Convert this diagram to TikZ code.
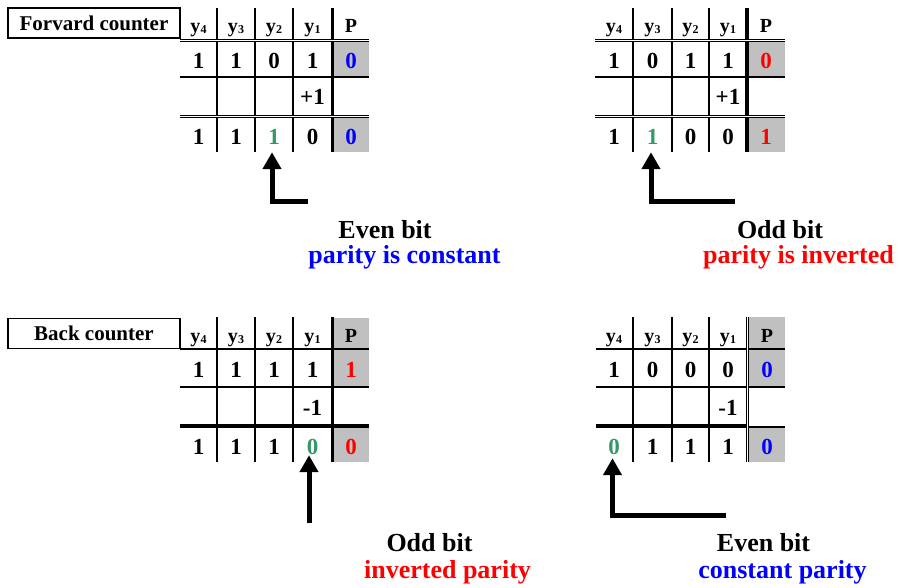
\documentclass[tikz,border=0pt]{standalone}
\usepackage{fontspec}
\setmainfont{Liberation Serif}
\usetikzlibrary{arrows.meta}

\definecolor{pgrey}{RGB}{192,192,192}
\definecolor{pblue}{RGB}{0,0,255}
\definecolor{pred}{RGB}{255,0,0}
\definecolor{pgreen}{RGB}{51,153,102}

\newcommand\cellfont{\fontsize{23}{23}\selectfont\bfseries}
\newcommand\hdrfont{\fontsize{20}{20}\selectfont\bfseries}
\newcommand\titlefont{\fontsize{21}{21}\selectfont\bfseries}
\newcommand\lblfont{\fontsize{26}{26}\selectfont\bfseries}
\newcommand\ysub[1]{y\kern0.3pt\raisebox{-1pt}{\fontsize{12}{12}\selectfont #1}}

\tikzset{
  cell/.style={minimum width=36pt, minimum height=34pt, inner sep=0pt, font=\cellfont},
  hdr/.style={anchor=base, inner sep=0pt, font=\hdrfont},
  thinrule/.style={line width=1.8pt},
  thickrule/.style={line width=3.6pt},
  dblrule/.style={double, double distance=1.1pt, line width=1.1pt},
  titlebox/.style={draw, line width=1.8pt, minimum width=172pt, minimum height=30pt,
                   inner sep=0pt, font=\titlefont},
  lbl/.style={anchor=base, inner sep=0pt, font=\lblfont},
  bigarrow/.style={line width=5pt, line join=miter,
                   -{Triangle[width=18pt,length=17pt]}},
}

\begin{document}
\begin{tikzpicture}[x=1pt, y=-1pt]
\useasboundingbox[fill=white] (0,0) rectangle (900,588);

% ---------------- forward counter, even bit ----------------
\fill[pgrey] (334,42.5) rectangle (369,76.5);
\fill[pgrey] (334,118.5) rectangle (369,152);
\foreach \x in {217,255,293} \draw[thinrule] (\x,8) -- (\x,152);
\draw[thickrule] (332.5,8) -- (332.5,152);
\draw[dblrule] (180,40.5) -- (369,40.5);
\draw[thinrule] (180,77) -- (369,77);
\draw[dblrule] (180,116.5) -- (369,116.5);

\node[titlebox] (t1title) at (94,23) {Forvard counter};
\node[hdr] (t1h4) at (198.5,33) {\ysub{4}};
\node[hdr] (t1h3) at (236,33) {\ysub{3}};
\node[hdr] (t1h2) at (274,33) {\ysub{2}};
\node[hdr] (t1h1) at (312.5,33) {\ysub{1}};
\node[hdr] (t1hp) at (351,33) {P};
\node[cell] (t1a4) at (198.5,60.5) {1};
\node[cell] (t1a3) at (236,60.5) {1};
\node[cell] (t1a2) at (274,60.5) {0};
\node[cell] (t1a1) at (312.5,60.5) {1};
\node[cell, text=pblue] (t1ap) at (351,60.5) {0};
\node[cell] (t1inc) at (312.5,97) {+1};
\node[cell] (t1b4) at (198.5,136.5) {1};
\node[cell] (t1b3) at (236,136.5) {1};
\node[cell, text=pgreen] (t1b2) at (274,136.5) {1};
\node[cell] (t1b1) at (312.5,136.5) {0};
\node[cell, text=pblue] (t1bp) at (351,136.5) {0};

\coordinate (t1tail) at (308,202);
\draw[bigarrow, shorten >=-1.5pt] (t1tail) -| ([xshift=-2pt]t1b2.south);
\node[lbl] (t1l1) at (385,239) {Even bit};
\node[lbl, text=pblue] (t1l2) at (404.5,263.5) {parity is constant};

% ---------------- forward counter, odd bit ----------------
\fill[pgrey] (749,42.5) rectangle (785,76.5);
\fill[pgrey] (749,118.5) rectangle (785,152);
\foreach \x in {633,672,709} \draw[thinrule] (\x,8) -- (\x,152);
\draw[thickrule] (747,8) -- (747,152);
\draw[dblrule] (595,40.5) -- (785,40.5);
\draw[thinrule] (595,77) -- (785,77);
\draw[dblrule] (595,116.5) -- (785,116.5);

\node[hdr] (t2h4) at (614,33) {\ysub{4}};
\node[hdr] (t2h3) at (652.5,33) {\ysub{3}};
\node[hdr] (t2h2) at (690.5,33) {\ysub{2}};
\node[hdr] (t2h1) at (728,33) {\ysub{1}};
\node[hdr] (t2hp) at (766,33) {P};
\node[cell] (t2a4) at (614,60.5) {1};
\node[cell] (t2a3) at (652.5,60.5) {0};
\node[cell] (t2a2) at (690.5,60.5) {1};
\node[cell] (t2a1) at (728,60.5) {1};
\node[cell, text=pred] (t2ap) at (766,60.5) {0};
\node[cell] (t2inc) at (728,97) {+1};
\node[cell] (t2b4) at (614,136.5) {1};
\node[cell, text=pgreen] (t2b3) at (652.5,136.5) {1};
\node[cell] (t2b2) at (690.5,136.5) {0};
\node[cell] (t2b1) at (728,136.5) {0};
\node[cell, text=pred] (t2bp) at (766,136.5) {1};

\coordinate (t2tail) at (735,202);
\draw[bigarrow, shorten >=-1.5pt] (t2tail) -| ([xshift=-1.5pt]t2b3.south);
\node[lbl] (t2l1) at (780,239) {Odd bit};
\node[lbl, text=pred] (t2l2) at (798.5,264) {parity is inverted};

% ---------------- back counter, odd bit ----------------
\fill[pgrey] (334,318) rectangle (369,348);
\fill[pgrey] (334,350) rectangle (369,386);
\fill[pgrey] (334,428) rectangle (369,462);
\foreach \x in {217,255,293} \draw[thinrule] (\x,317) -- (\x,462);
\draw[thickrule] (332.5,317) -- (332.5,462);
\draw[thinrule] (180,349) -- (369,349);
\draw[thinrule] (180,387) -- (369,387);
\draw[thickrule] (180,426) -- (369,426);

\node[titlebox] (t3title) at (94,333.5) {Back counter};
\node[hdr] (t3h4) at (198.5,342.5) {\ysub{4}};
\node[hdr] (t3h3) at (236,342.5) {\ysub{3}};
\node[hdr] (t3h2) at (274,342.5) {\ysub{2}};
\node[hdr] (t3h1) at (312.5,342.5) {\ysub{1}};
\node[hdr] (t3hp) at (351,342.5) {P};
\node[cell] (t3a4) at (198.5,370) {1};
\node[cell] (t3a3) at (236,370) {1};
\node[cell] (t3a2) at (274,370) {1};
\node[cell] (t3a1) at (312.5,370) {1};
\node[cell, text=pred] (t3ap) at (351,370) {1};
\node[cell] (t3dec) at (312.5,408) {-1};
\node[cell] (t3b4) at (198.5,447) {1};
\node[cell] (t3b3) at (236,447) {1};
\node[cell] (t3b2) at (274,447) {1};
\node[cell, text=pgreen] (t3b1) at (312.5,447) {0};
\node[cell, text=pred] (t3bp) at (351,447) {0};

\coordinate (t3tail) at (309,523);
\draw[bigarrow, shorten >=-9pt] (t3tail) -- (t3tail |- t3b1.south);
\node[lbl] (t3l1) at (429.5,551.5) {Odd bit};
\node[lbl, text=pred] (t3l2) at (447.5,578) {inverted parity};

% ---------------- back counter, even bit ----------------
\fill[pgrey] (749,317) rectangle (785,348);
\fill[pgrey] (749,350) rectangle (785,386);
\fill[pgrey] (749,428) rectangle (785,462);
\foreach \x in {633,672,709} \draw[thinrule] (\x,317) -- (\x,462);
\draw[thinrule] (596,349) -- (785,349);
\draw[thinrule] (596,387) -- (785,387);
\draw[thickrule] (596,426) -- (747,426);
\draw[thinrule] (747,427) -- (785,427);
\draw[dblrule] (747.5,317) -- (747.5,462);

\node[hdr] (t4h4) at (614,342.5) {\ysub{4}};
\node[hdr] (t4h3) at (652.5,342.5) {\ysub{3}};
\node[hdr] (t4h2) at (690.5,342.5) {\ysub{2}};
\node[hdr] (t4h1) at (728,342.5) {\ysub{1}};
\node[hdr] (t4hp) at (767,342.5) {P};
\node[cell] (t4a4) at (614,370) {1};
\node[cell] (t4a3) at (652.5,370) {0};
\node[cell] (t4a2) at (690.5,370) {0};
\node[cell] (t4a1) at (728,370) {0};
\node[cell, text=pblue] (t4ap) at (767,370) {0};
\node[cell] (t4dec) at (728,408) {-1};
\node[cell, text=pgreen] (t4b4) at (614,447) {0};
\node[cell] (t4b3) at (652.5,447) {1};
\node[cell] (t4b2) at (690.5,447) {1};
\node[cell] (t4b1) at (728,447) {1};
\node[cell, text=pblue] (t4bp) at (767,447) {0};

\coordinate (t4tail) at (726,515);
\draw[bigarrow, shorten >=-6pt] (t4tail) -| ([xshift=-1.5pt]t4b4.south);
\node[lbl] (t4l1) at (763.5,551.5) {Even bit};
\node[lbl, text=pblue] (t4l2) at (782.5,578) {constant parity};
\end{tikzpicture}
\end{document}
